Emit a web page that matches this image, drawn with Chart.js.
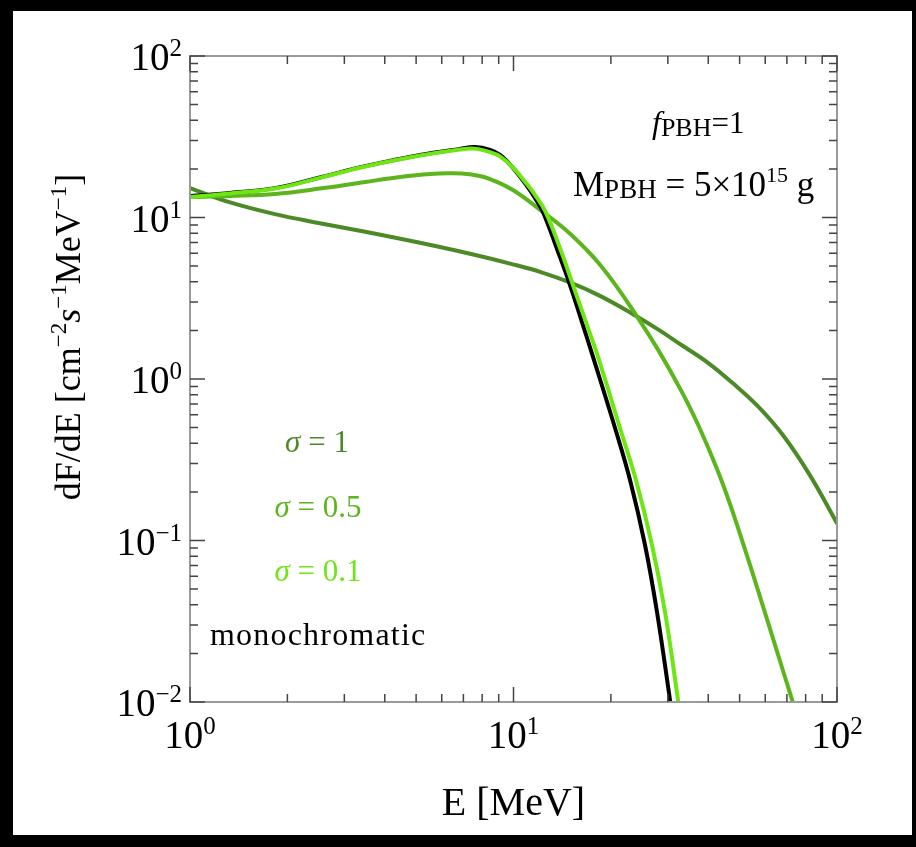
<!DOCTYPE html>
<html>
<head>
<meta charset="utf-8">
<script src="https://cdn.jsdelivr.net/npm/chart.js@4.4.1/dist/chart.umd.min.js"></script>
<style>
  html, body { margin: 0; padding: 0; background: #000; }
  #wrap { position: absolute; left: 0; top: 0; width: 916px; height: 847px; }
</style>
</head>
<body>
<div id="wrap"><canvas id="spectrum" width="916" height="847"></canvas></div>
<script>
// photon energies [MeV] and fluxes dF/dE
const monoE = [1, 1.33, 1.83, 2.52, 3.48, 5.14, 6.83, 7.6, 8.46, 9.08, 9.96, 11.0, 11.65, 12.34, 13.63, 14.95, 16.28, 17.61, 20.6, 22.92, 25.5, 27.77, 30.46, 31.57];
const monoF = [13.6, 14.2, 15.2, 17.7, 20.8, 24.4, 26.6, 27.3, 26.2, 24.4, 20.3, 15.7, 13.2, 10.8, 6.38, 3.82, 2.25, 1.37, 0.497, 0.237, 0.0938, 0.0361, 0.0103, 0.0062];

const s01E = [1, 1.33, 1.83, 2.52, 3.48, 5.14, 6.83, 7.6, 8.46, 9.08, 9.96, 11.0, 11.65, 12.52, 13.92, 15.27, 16.75, 18.25, 21.34, 23.91, 26.8, 29.4, 32.25, 33.42];
const s01F = [13.4, 14.1, 15.1, 17.6, 20.7, 24.2, 26.4, 26.7, 25.4, 23.9, 20.4, 16.1, 13.8, 11.0, 6.47, 3.82, 2.25, 1.37, 0.497, 0.237, 0.0938, 0.0361, 0.0103, 0.0062];

const s05E = [1, 1.33, 1.83, 2.52, 3.48, 4.46, 5.52, 6.36, 7.34, 8.46, 9.96, 12.34, 14.43, 16.87, 18.51, 20.74, 23.41, 27.97, 33.42, 37.72, 42.57, 46.7, 51.2, 57.0, 63.4, 73.1, 79.6];
const s05F = [13.4, 13.6, 14.0, 15.1, 16.6, 17.8, 18.6, 18.8, 18.5, 17.3, 14.8, 10.8, 8.45, 6.27, 5.10, 3.79, 2.66, 1.52, 0.806, 0.490, 0.277, 0.168, 0.0964, 0.0491, 0.0248, 0.0099, 0.0058];

const s1E = [1, 1.33, 1.83, 2.52, 3.48, 5.14, 7.34, 9.96, 12.08, 14.95, 18.51, 23.41, 27.97, 33.42, 39.93, 47.7, 57.0, 68.1, 82.5, 100];
const s1F = [15.2, 12.4, 10.5, 9.22, 8.16, 6.97, 5.96, 5.13, 4.61, 3.96, 3.27, 2.52, 2.03, 1.60, 1.26, 0.94, 0.676, 0.448, 0.253, 0.128];

const xTickExps = [0, 1, 2];
const yTickExps = [-2, -1, 0, 1, 2];

const colMono = '#000000';
const colS01 = '#6ee614';
const colS05 = '#5cb51c';
const colS1 = '#4b8a26';

const SERIF = "'Liberation Serif', 'DejaVu Serif', serif";

function pts(xs, ys) {
    return xs.map((x, i) => ({ x: x, y: ys[i] }));
}

// draw a row of text pieces: [text, font, dy]
function drawRuns(ctx, parts, x, y, align) {
    let w = 0;
    parts.forEach(p => { ctx.font = p[1]; w += ctx.measureText(p[0]).width; });
    let cx = x;
    if (align === 'center') cx = x - w / 2;
    if (align === 'right') cx = x - w;
    parts.forEach(p => {
        ctx.font = p[1];
        ctx.fillText(p[0], cx, y + (p[2] || 0));
        cx += ctx.measureText(p[0]).width;
    });
}

function supStr(e) {
    return e < 0 ? '\u2212' + Math.abs(e) : String(e);
}

const framePlugin = {
    id: 'frame',
    beforeDraw(chart) {
        const ctx = chart.ctx;
        ctx.save();
        ctx.fillStyle = '#ffffff';
        ctx.fillRect(13, 11, 899, 824);
        ctx.restore();
    },
    afterDatasetsDraw(chart) {
        const ctx = chart.ctx;
        const a = chart.chartArea;
        const xs = chart.scales.x;
        const ys = chart.scales.y;
        ctx.save();

        // box
        ctx.strokeStyle = '#9a9a9a';
        ctx.lineWidth = 2;
        ctx.strokeRect(a.left, a.top, a.right - a.left, a.bottom - a.top);

        // inward ticks on all four sides
        ctx.strokeStyle = '#444';
        ctx.lineWidth = 1.5;
        ctx.beginPath();
        for (let e = xTickExps[0]; e <= xTickExps[xTickExps.length - 1]; e++) {
            for (let k = 1; k <= 9; k++) {
                const v = k * Math.pow(10, e);
                if (v > xs.max + 1e-9) break;
                const p = xs.getPixelForValue(v);
                const len = k === 1 ? 15 : 8;
                ctx.moveTo(p, a.bottom); ctx.lineTo(p, a.bottom - len);
                ctx.moveTo(p, a.top); ctx.lineTo(p, a.top + len);
            }
        }
        for (let e = yTickExps[0]; e <= yTickExps[yTickExps.length - 1]; e++) {
            for (let k = 1; k <= 9; k++) {
                const v = k * Math.pow(10, e);
                if (v > ys.max * 1.0001) break;
                const p = ys.getPixelForValue(v);
                const len = k === 1 ? 15 : 8;
                ctx.moveTo(a.left, p); ctx.lineTo(a.left + len, p);
                ctx.moveTo(a.right, p); ctx.lineTo(a.right - len, p);
            }
        }
        ctx.stroke();

        // tick labels
        ctx.fillStyle = '#000';
        ctx.textBaseline = 'alphabetic';
        xTickExps.forEach(e => {
            const p = xs.getPixelForValue(Math.pow(10, e));
            drawRuns(ctx, [['10', '39px ' + SERIF], [supStr(e), '25px ' + SERIF, -14]], p, a.bottom + 46, 'center');
        });
        yTickExps.forEach(e => {
            const p = ys.getPixelForValue(Math.pow(10, e));
            drawRuns(ctx, [['10', '39px ' + SERIF], [supStr(e), '25px ' + SERIF, -14]], a.left - 8, p + 14, 'right');
        });

        // axis titles
        drawRuns(ctx, [['E [MeV]', '40px ' + SERIF]], (a.left + a.right) / 2, 815, 'center');
        ctx.save();
        ctx.translate(80, 337);
        ctx.rotate(-Math.PI / 2);
        drawRuns(ctx, [
            ['dF/dE [cm', '36px ' + SERIF],
            ['\u22122', '23px ' + SERIF, -14],
            ['s', 'italic 36px ' + SERIF],
            ['\u22121', '23px ' + SERIF, -14],
            ['MeV', '36px ' + SERIF],
            ['\u22121', '23px ' + SERIF, -14],
            [']', '36px ' + SERIF]
        ], 0, 0, 'center');
        ctx.restore();

        // parameter box
        drawRuns(ctx, [['f', 'italic 32px ' + SERIF], ['PBH', '26px ' + SERIF, 3], ['=1', '31px ' + SERIF]], 652, 133, 'left');
        drawRuns(ctx, [['M', '35px ' + SERIF], ['PBH', '27px ' + SERIF, 2], [' = 5\u00d710', '35px ' + SERIF], ['15', '22px ' + SERIF, -14], [' g', '35px ' + SERIF]], 573, 196, 'left');

        // curve labels
        ctx.fillStyle = colS1;
        drawRuns(ctx, [['\u03c3', 'italic 31px ' + SERIF], [' = 1', '31px ' + SERIF]], 317, 452, 'center');
        ctx.fillStyle = colS05;
        drawRuns(ctx, [['\u03c3', 'italic 31px ' + SERIF], [' = 0.5', '31px ' + SERIF]], 318, 517, 'center');
        ctx.fillStyle = colS01;
        drawRuns(ctx, [['\u03c3', 'italic 31px ' + SERIF], [' = 0.1', '31px ' + SERIF]], 318, 581, 'center');
        ctx.fillStyle = '#000';
        ctx.letterSpacing = '1.2px';
        drawRuns(ctx, [['monochromatic', '32px ' + SERIF]], 210, 645, 'left');
        ctx.letterSpacing = '0px';

        ctx.restore();
    }
};

const ctx = document.getElementById('spectrum').getContext('2d');

const chart = new Chart(ctx, {
    type: 'line',
    data: {
        datasets: [
            { label: 'sigma=0.1', data: pts(s01E, s01F), borderColor: colS01, order: 1 },
            { label: 'monochromatic', data: pts(monoE, monoF), borderColor: colMono, order: 2 },
            { label: 'sigma=0.5', data: pts(s05E, s05F), borderColor: colS05, order: 3 },
            { label: 'sigma=1', data: pts(s1E, s1F), borderColor: colS1, order: 4 }
        ]
    },
    options: {
        responsive: false,
        animation: false,
        devicePixelRatio: 1,
        layout: { padding: { left: 190, top: 56, right: 79, bottom: 145 } },
        elements: {
            line: { borderWidth: 4, tension: 0.4, borderCapStyle: 'round', borderJoinStyle: 'round', fill: false },
            point: { radius: 0, hoverRadius: 0 }
        },
        plugins: {
            legend: { display: false },
            tooltip: { enabled: false }
        },
        scales: {
            x: { type: 'logarithmic', min: 1, max: 100, display: false },
            y: { type: 'logarithmic', min: 0.01, max: 100, display: false }
        }
    },
    plugins: [framePlugin]
});
</script>
</body>
</html>
